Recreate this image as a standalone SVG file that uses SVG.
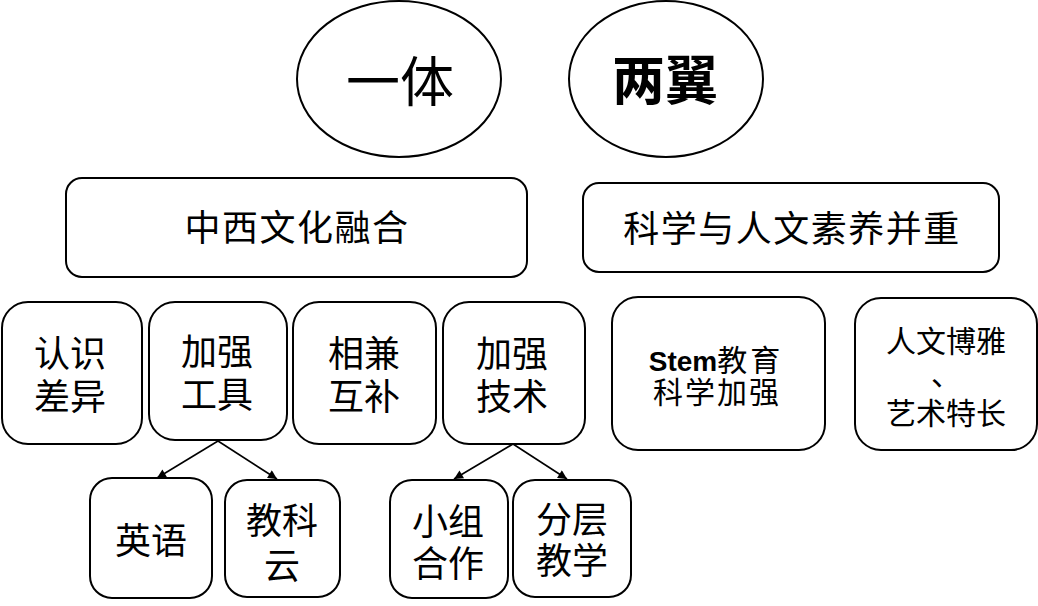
<svg xmlns="http://www.w3.org/2000/svg" width="1038" height="606" viewBox="0 0 1038 606">
<defs>
<style>
.sh{fill:#fff;stroke:#000;stroke-width:2}
.t{font-family:"Noto Sans CJK SC","Liberation Sans",sans-serif;fill:#000;text-anchor:middle}
.t36{font-size:36px}
.t30{font-size:30px}
.en{font-family:"Liberation Sans",Arial,sans-serif;font-weight:bold;font-size:28px}
.cn{stroke:#000;stroke-width:1.6;fill:none}
</style>
<marker id="ah" viewBox="0 0 10 10" refX="10" refY="5" markerWidth="11" markerHeight="9" markerUnits="userSpaceOnUse" orient="auto">
<path d="M0,0 L10,5 L0,10 z" fill="#000"/>
</marker>
</defs>
<rect width="1038" height="606" fill="#fff"/>

<g id="n-yiti">
<ellipse class="sh" cx="399" cy="79" rx="102" ry="78"/>
<text class="t" x="400" y="102" font-size="54">一体</text>
</g>
<g id="n-liangyi">
<ellipse class="sh" cx="666" cy="79" rx="97" ry="78"/>
<text class="t" x="665" y="100" font-size="53" font-weight="bold">两翼</text>
</g>

<g id="n-zhongxi">
<rect class="sh" x="66" y="178" width="461" height="99" rx="16"/>
<text class="t t36" x="297" y="241" letter-spacing="1.5">中西文化融合</text>
</g>
<g id="n-kexue">
<rect class="sh" x="583" y="183" width="416" height="89" rx="16"/>
<text class="t t36" x="792" y="242" letter-spacing="1.5">科学与人文素养并重</text>
</g>

<g id="n-renshi">
<rect class="sh" x="2" y="302" width="140" height="142" rx="26"/>
<text class="t t36" x="70" y="367">认识</text>
<text class="t t36" x="70" y="410">差异</text>
</g>
<g id="n-gongju">
<rect class="sh" x="149" y="302" width="138" height="138" rx="26"/>
<text class="t t36" x="217" y="365">加强</text>
<text class="t t36" x="217" y="408">工具</text>
</g>
<g id="n-xiangjian">
<rect class="sh" x="293" y="302" width="143" height="142" rx="26"/>
<text class="t t36" x="364" y="367">相兼</text>
<text class="t t36" x="364" y="410">互补</text>
</g>
<g id="n-jishu">
<rect class="sh" x="443" y="302" width="142" height="142" rx="26"/>
<text class="t t36" x="512" y="367">加强</text>
<text class="t t36" x="512" y="410">技术</text>
</g>
<g id="n-stem">
<rect class="sh" x="612" y="297" width="213" height="153" rx="26"/>
<text class="t t30" x="716" y="371"><tspan class="en">Stem</tspan><tspan letter-spacing="3">教育</tspan></text>
<text class="t t30" x="717" y="403" letter-spacing="2">科学加强</text>
</g>
<g id="n-renwen">
<rect class="sh" x="855" y="298" width="182" height="152" rx="26"/>
<text class="t t30" x="946" y="352">人文博雅</text>
<text class="t t30" x="946" y="385">、</text>
<text class="t t30" x="946" y="424">艺术特长</text>
</g>

<g id="n-yingyu">
<rect class="sh" x="90" y="478" width="122" height="120" rx="22"/>
<text class="t t36" x="151" y="554">英语</text>
</g>
<g id="n-jiaokeyun">
<rect class="sh" x="225" y="480" width="115" height="117" rx="22"/>
<text class="t t36" x="282" y="534">教科</text>
<text class="t t36" x="282" y="579">云</text>
</g>
<g id="n-xiaozu">
<rect class="sh" x="390" y="480" width="118" height="118" rx="22"/>
<text class="t t36" x="448" y="535">小组</text>
<text class="t t36" x="448" y="577">合作</text>
</g>
<g id="n-fenceng">
<rect class="sh" x="513" y="480" width="118" height="117" rx="22"/>
<text class="t t36" x="572" y="533">分层</text>
<text class="t t36" x="572" y="574">教学</text>
</g>

<g id="connectors">
<line class="cn" x1="218" y1="441" x2="157" y2="478" marker-end="url(#ah)"/>
<line class="cn" x1="218" y1="441" x2="277" y2="479" marker-end="url(#ah)"/>
<line class="cn" x1="513" y1="444" x2="454" y2="479" marker-end="url(#ah)"/>
<line class="cn" x1="513" y1="444" x2="567" y2="479" marker-end="url(#ah)"/>
</g>
</svg>
